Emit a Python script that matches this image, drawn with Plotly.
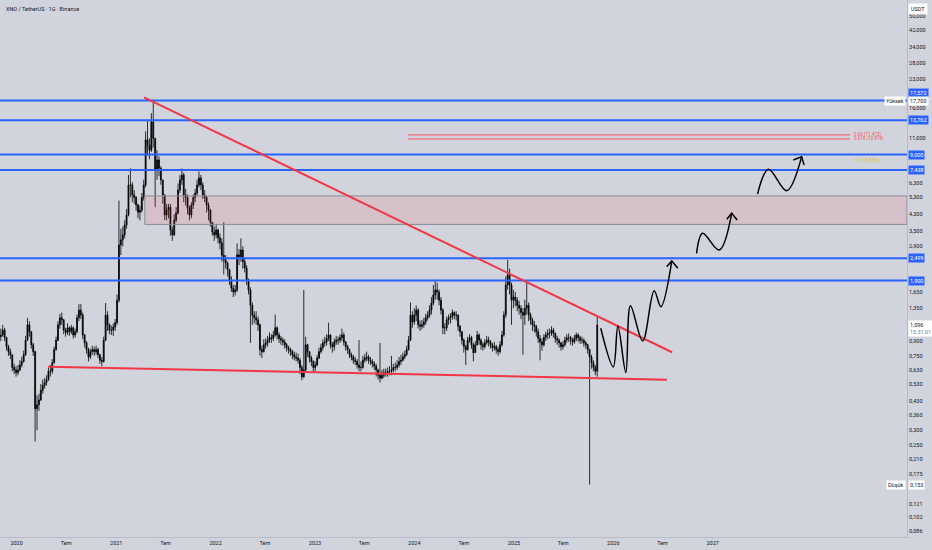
import math
import pandas as pd
import plotly.graph_objects as go

# XNO / TetherUS, weekly candles (open = previous close)
start_week = "2019-11-04"
first_open = 0.95

closes = [
    0.97, 1.03, 0.94, 0.84, 0.79, 0.76, 0.65, 0.63, 0.61, 0.63,
    0.67, 0.70, 0.76, 0.91, 1.10, 1.01, 0.86, 0.79, 0.39, 0.41,
    0.435, 0.49, 0.52, 0.54, 0.56, 0.62, 0.62, 0.69, 0.81, 0.91,
    1.10, 1.20, 1.17, 1.03, 1.00, 1.06, 1.01, 1.06, 0.97, 1.01,
    1.20, 1.32, 1.24, 0.97, 0.88, 0.81, 0.74, 0.79, 0.81, 0.79,
    0.81, 0.76, 0.71, 0.70, 0.91, 1.24, 1.10, 1.03, 1.03, 1.07,
    1.13, 1.49, 2.95, 3.14, 3.34, 3.77, 4.27, 6.19, 6.19, 5.47,
    5.30, 4.83, 4.42, 4.54, 5.30, 6.19, 10.8, 10.1, 9.5, 13.5,
    11.0, 7.5, 8.42, 7.6, 6.58, 5.47, 4.27, 4.54, 4.70, 3.55,
    3.34, 4.01, 4.38, 5.81, 6.58, 7.0, 5.47, 5.30, 4.65, 4.27,
    4.83, 5.30, 5.60, 6.19, 6.75, 6.19, 5.47, 5.30, 4.83, 4.54,
    3.90, 3.46, 3.34, 3.55, 3.22, 3.03, 2.60, 2.45, 2.36, 2.17,
    1.91, 1.73, 1.65, 1.69, 2.61, 2.55, 2.77, 2.40, 2.22, 1.91,
    1.69, 1.40, 1.24, 1.20, 1.17, 1.10, 0.81, 0.79, 0.86, 0.88,
    0.91, 0.94, 0.93, 0.97, 1.06, 0.97, 0.93, 0.91, 0.89, 0.86,
    0.83, 0.81, 0.79, 0.76, 0.74, 0.73, 0.71, 0.65, 0.58, 0.63,
    0.86, 0.79, 0.73, 0.70, 0.65, 0.67, 0.73, 0.79, 0.83, 0.88,
    0.89, 0.93, 0.97, 0.86, 0.84, 0.89, 0.91, 0.91, 0.94, 0.97,
    0.89, 0.84, 0.81, 0.76, 0.74, 0.71, 0.70, 0.67, 0.65, 0.65,
    0.71, 0.73, 0.74, 0.71, 0.70, 0.68, 0.66, 0.63, 0.59, 0.57,
    0.59, 0.61, 0.61, 0.62, 0.62, 0.63, 0.65, 0.65, 0.67, 0.70,
    0.71, 0.74, 0.76, 0.81, 0.91, 1.24, 1.14, 1.24, 1.32, 1.10,
    1.08, 1.10, 1.14, 1.20, 1.24, 1.32, 1.44, 1.59, 1.69, 1.65,
    1.49, 1.32, 1.06, 1.06, 1.17, 1.20, 1.22, 1.28, 1.24, 1.24,
    1.08, 1.01, 0.91, 0.84, 0.81, 0.91, 0.94, 0.86, 0.78, 0.86,
    0.97, 0.91, 0.86, 0.84, 0.88, 0.91, 0.89, 0.86, 0.83, 0.84,
    0.81, 0.79, 0.86, 0.97, 1.24, 1.80, 2.04, 1.80, 1.49, 1.55,
    1.49, 1.40, 1.35, 1.28, 1.24, 1.35, 1.40, 1.24, 1.17, 1.10,
    1.08, 1.01, 0.93, 0.89, 0.86, 0.94, 0.97, 0.99, 0.99, 1.03,
    0.99, 0.93, 0.91, 0.88, 0.84, 0.86, 0.91, 0.94, 0.94, 0.91,
    0.89, 0.93, 0.97, 0.94, 0.91, 0.91, 0.88, 0.86, 0.81, 0.74,
    0.69, 0.65, 0.62, 1.096,
]

highs = [
    1.05, 1.10, 1.06, 0.95, 0.86, 0.82, 0.76, 0.68, 0.66, 0.67,
    0.71, 0.74, 0.80, 0.96, 1.20, 1.15, 1.02, 0.88, 0.80, 0.46,
    0.47, 0.53, 0.56, 0.57, 0.59, 0.65, 0.67, 0.72, 0.84, 0.95,
    1.15, 1.26, 1.28, 1.18, 1.06, 1.12, 1.08, 1.10, 1.08, 1.05,
    1.25, 1.42, 1.42, 1.28, 0.98, 0.90, 0.83, 0.82, 0.85, 0.84,
    0.85, 0.83, 0.77, 0.74, 0.95, 1.44, 1.30, 1.12, 1.09, 1.12,
    1.18, 1.60, 5.10, 3.60, 3.70, 4.00, 4.60, 7.00, 7.60, 6.40,
    5.80, 5.40, 4.90, 4.80, 5.60, 6.60, 12.0, 13.8, 11.0, 15.0,
    17.7, 11.0, 9.5, 8.8, 7.8, 6.6, 5.5, 4.9, 4.9, 4.9,
    3.7, 4.3, 4.7, 6.3, 7.0, 7.6, 7.2, 5.9, 5.5, 4.8,
    5.0, 5.5, 5.9, 6.6, 7.3, 7.0, 6.4, 5.8, 5.4, 5.0,
    4.6, 3.9, 3.7, 3.8, 3.6, 3.4, 3.2, 3.9, 2.6, 2.4,
    2.2, 2.0, 1.8, 1.8, 3.0, 2.8, 3.2, 2.9, 2.5, 2.3,
    1.95, 1.75, 1.45, 1.30, 1.30, 1.22, 1.12, 0.85, 0.92, 0.93,
    0.96, 1.00, 0.98, 1.02, 1.25, 1.08, 1.00, 0.96, 0.94, 0.92,
    0.88, 0.85, 0.83, 0.81, 0.79, 0.78, 0.77, 0.73, 0.67, 1.69,
    0.95, 0.87, 0.79, 0.75, 0.71, 0.70, 0.76, 0.83, 0.87, 0.92,
    0.95, 0.98, 1.13, 0.98, 0.89, 0.93, 0.96, 0.95, 0.98, 1.05,
    1.00, 0.90, 0.86, 0.82, 0.78, 0.76, 0.74, 0.72, 0.91, 0.70,
    0.75, 0.77, 0.79, 0.76, 0.74, 0.72, 0.70, 0.68, 0.64, 0.88,
    0.63, 0.64, 0.64, 0.65, 0.66, 0.75, 0.68, 0.69, 0.71, 0.74,
    0.76, 0.78, 0.80, 0.85, 0.96, 1.45, 1.30, 1.35, 1.40, 1.35,
    1.16, 1.17, 1.20, 1.26, 1.30, 1.40, 1.55, 1.80, 1.92, 1.85,
    1.70, 1.55, 1.35, 1.12, 1.22, 1.25, 1.27, 1.33, 1.30, 1.30,
    1.25, 1.10, 1.02, 0.93, 0.86, 0.95, 0.98, 0.96, 0.88, 0.90,
    1.02, 0.99, 0.93, 0.89, 0.92, 0.96, 0.95, 0.91, 0.88, 0.89,
    0.86, 0.84, 0.90, 1.02, 1.30, 2.00, 2.45, 2.20, 1.85, 1.70,
    1.65, 1.55, 1.48, 1.40, 1.35, 1.50, 1.85, 1.45, 1.28, 1.20,
    1.15, 1.10, 1.05, 0.97, 0.93, 0.98, 1.01, 1.04, 1.05, 1.08,
    1.06, 1.00, 0.96, 0.93, 0.89, 0.90, 0.95, 0.98, 0.99, 0.96,
    0.94, 0.97, 1.00, 0.99, 0.96, 0.95, 0.93, 0.90, 0.87, 0.82,
    0.76, 0.71, 0.67, 1.23,
]

lows = [
    0.90, 0.95, 0.90, 0.80, 0.75, 0.72, 0.62, 0.60, 0.58, 0.59,
    0.62, 0.65, 0.69, 0.75, 0.90, 0.95, 0.82, 0.75, 0.26, 0.30,
    0.38, 0.43, 0.47, 0.50, 0.52, 0.55, 0.58, 0.60, 0.68, 0.80,
    0.90, 1.05, 1.10, 0.98, 0.95, 0.97, 0.96, 0.98, 0.93, 0.94,
    0.99, 1.15, 1.18, 0.92, 0.83, 0.77, 0.70, 0.72, 0.76, 0.75,
    0.76, 0.73, 0.68, 0.66, 0.69, 0.90, 1.02, 0.98, 0.97, 0.96,
    1.02, 1.10, 1.45, 2.60, 2.90, 3.20, 3.60, 4.20, 5.30, 5.00,
    4.9, 4.5, 4.1, 4.0, 4.4, 5.1, 6.0, 8.9, 8.5, 9.3,
    9.8, 4.7, 6.6, 6.9, 6.2, 4.9, 4.0, 4.0, 4.1, 3.3,
    3.1, 3.3, 3.9, 4.3, 5.6, 6.2, 5.0, 4.8, 4.3, 4.0,
    4.1, 4.6, 5.0, 5.4, 6.0, 5.8, 5.2, 5.0, 4.4, 4.0,
    3.7, 3.3, 3.1, 3.2, 3.0, 2.8, 2.4, 2.05, 2.2, 2.0,
    1.8, 1.65, 1.55, 1.58, 1.65, 2.3, 2.4, 2.2, 2.1, 1.8,
    1.6, 0.88, 1.1, 1.12, 1.1, 1.02, 0.75, 0.73, 0.78, 0.82,
    0.84, 0.88, 0.88, 0.90, 0.95, 0.92, 0.88, 0.86, 0.85, 0.82,
    0.79, 0.77, 0.75, 0.72, 0.71, 0.70, 0.68, 0.60, 0.555, 0.57,
    0.62, 0.74, 0.69, 0.66, 0.61, 0.62, 0.66, 0.72, 0.77, 0.80,
    0.84, 0.85, 0.90, 0.82, 0.78, 0.80, 0.86, 0.86, 0.88, 0.90,
    0.85, 0.80, 0.77, 0.73, 0.71, 0.68, 0.67, 0.64, 0.62, 0.62,
    0.64, 0.69, 0.70, 0.68, 0.67, 0.65, 0.63, 0.58, 0.56, 0.54,
    0.56, 0.57, 0.58, 0.58, 0.59, 0.59, 0.61, 0.62, 0.63, 0.65,
    0.67, 0.70, 0.72, 0.75, 0.80, 0.90, 1.06, 1.10, 1.15, 1.05,
    1.02, 1.04, 1.06, 1.10, 1.16, 1.20, 1.25, 1.40, 1.50, 1.50,
    1.40, 1.25, 0.98, 0.98, 1.02, 1.10, 1.12, 1.17, 1.18, 1.16,
    1.02, 0.95, 0.86, 0.78, 0.67, 0.80, 0.88, 0.82, 0.70, 0.78,
    0.85, 0.86, 0.81, 0.80, 0.82, 0.86, 0.84, 0.82, 0.79, 0.80,
    0.77, 0.75, 0.77, 0.84, 0.95, 1.20, 1.70, 1.60, 1.10, 1.35,
    1.38, 1.30, 1.25, 1.18, 0.76, 1.10, 1.25, 1.15, 1.10, 1.02,
    1.00, 0.95, 0.88, 0.71, 0.80, 0.84, 0.90, 0.92, 0.93, 0.96,
    0.94, 0.88, 0.86, 0.83, 0.80, 0.81, 0.84, 0.88, 0.89, 0.86,
    0.85, 0.87, 0.90, 0.89, 0.87, 0.87, 0.84, 0.82, 0.77, 0.153,
    0.64, 0.62, 0.59, 0.58,
]

weeks = pd.date_range(start_week, periods=len(closes), freq="7D")
opens = [first_open] + closes[:-1]

# horizontal levels drawn on the chart
levels = [17.572, 13.762, 9.000, 7.438, 2.499, 1.900]
level_labels = ["17,572", "13,762", "9,000", "7,438", "2,499", "1,900"]

# trend lines
down_x = ["2021-04-13", "2026-08-05"]
down_y = [18.26, 0.784]
support_x = ["2020-04-26", "2026-07-17"]
support_y = [0.656, 0.559]

# zone box
zone_x0 = "2021-04-16"
zone_top = 5.40
zone_bottom = 3.80

# fib lines
fib_x = ["2023-12-08", "2028-05-20"]
fib_levels = [11.473, 10.914]
fib_labels = ["0.65 (11.473)", "0.618 (10.914)"]
fib_note = "0.5 (8.558)"
fib_note_x = "2028-06-01"
fib_note_y = 8.40

# projected path
wave1_x = ["2025-11-16", "2026-01-01", "2026-01-18", "2026-02-16", "2026-03-05",
           "2026-04-19", "2026-05-31", "2026-06-25", "2026-08-04"]
wave1_y = [1.054, 0.654, 1.085, 0.610, 1.393, 0.901, 1.677, 1.376, 2.42]
head1_x = ["2026-07-16", "2026-08-04", "2026-08-26"]
head1_y = [2.25, 2.42, 2.21]
wave2_x = ["2026-11-03", "2026-11-25", "2027-01-25", "2027-03-12"]
wave2_y = [2.66, 3.41, 2.77, 4.36]
head2_x = ["2027-02-22", "2027-03-12", "2027-04-01"]
head2_y = [4.05, 4.36, 4.01]
wave3_x = ["2027-06-15", "2027-07-25", "2027-09-30", "2027-11-24"]
wave3_y = [5.53, 7.51, 5.76, 8.77]
head3_x = ["2027-10-24", "2027-11-24", "2027-12-03"]
head3_y = [8.42, 8.77, 7.92]

# axes
x_range = ["2019-11-01", "2028-12-15"]
y_top, y_bottom = 60.7, 0.0801
ytick_vals = [50, 42, 34, 28, 23, 16, 11, 6.3, 5.3, 4.3, 3.5, 2.9, 1.65, 1.35,
              0.9, 0.75, 0.63, 0.53, 0.43, 0.36, 0.30, 0.25, 0.21, 0.175,
              0.121, 0.102, 0.086]
xtick_vals = ["2020-01-01", "2020-07-01", "2021-01-01", "2021-07-01", "2022-01-01",
              "2022-07-01", "2023-01-01", "2023-07-01", "2024-01-01", "2024-07-01",
              "2025-01-01", "2025-07-01", "2026-01-01", "2026-07-01", "2027-01-01"]
xtick_text = ["2020", "Tem", "2021", "Tem", "2022", "Tem", "2023", "Tem", "2024",
              "Tem", "2025", "Tem", "2026", "Tem", "2027"]

last_price = 1.096
high_price = 17.700
low_price = 0.153


def fmt(v):
    return f"{v:.3f}".replace(".", ",")


BG = "#d1d4dc"
TXT = "#131722"
BLUE = "#2962ff"
RED = "#f23645"

fig = go.Figure()

# zone
fig.add_trace(go.Scatter(
    x=[zone_x0, x_range[1], x_range[1], zone_x0, zone_x0],
    y=[zone_top, zone_top, zone_bottom, zone_bottom, zone_top],
    fill="toself", fillcolor="rgba(242,54,69,0.12)",
    line=dict(color="#8a8d96", width=1), mode="lines", hoverinfo="skip"))

for lv in levels:
    fig.add_trace(go.Scatter(x=x_range, y=[lv, lv], mode="lines",
                             line=dict(color=BLUE, width=2), hoverinfo="skip"))

for fl in fib_levels:
    fig.add_trace(go.Scatter(x=fib_x, y=[fl, fl], mode="lines",
                             line=dict(color="#f7525f", width=1), hoverinfo="skip"))

fig.add_trace(go.Candlestick(
    x=weeks, open=opens, high=highs, low=lows, close=closes,
    increasing=dict(line=dict(color="#000000", width=0.8), fillcolor="#000000"),
    decreasing=dict(line=dict(color="#000000", width=0.8), fillcolor="#000000"),
    whiskerwidth=0))

fig.add_trace(go.Scatter(x=down_x, y=down_y, mode="lines",
                         line=dict(color=RED, width=2), hoverinfo="skip"))
fig.add_trace(go.Scatter(x=support_x, y=support_y, mode="lines",
                         line=dict(color=RED, width=2), hoverinfo="skip"))

for wx, wy in [(wave1_x, wave1_y), (wave2_x, wave2_y), (wave3_x, wave3_y)]:
    fig.add_trace(go.Scatter(x=wx, y=wy, mode="lines",
                             line=dict(color="#000000", width=1.5, shape="spline"),
                             hoverinfo="skip"))
for hx, hy in [(head1_x, head1_y), (head2_x, head2_y), (head3_x, head3_y)]:
    fig.add_trace(go.Scatter(x=hx, y=hy, mode="lines",
                             line=dict(color="#000000", width=1.5), hoverinfo="skip"))

small = dict(family="Roboto", size=5.5, color=TXT)
ann = []
ann.append(dict(xref="paper", yref="paper", x=0, y=1, xanchor="left", yanchor="top",
                xshift=4, yshift=-4, text="XNO / TetherUS · 1G · Binance", showarrow=False,
                font=dict(family="Roboto", size=5.5, color=TXT)))
ann.append(dict(xref="paper", yref="paper", x=1, y=1, xanchor="left", yanchor="top",
                xshift=1, yshift=-3, text="USDT", showarrow=False, bgcolor="#ffffff",
                borderpad=2, font=small))
for i, (lv, lb) in enumerate(zip(levels, level_labels)):
    ann.append(dict(xref="paper", yref="y", x=1, y=math.log10(lv), xanchor="left",
                    yanchor="middle", xshift=1, yshift=7 if i == 0 else 0, text=lb,
                    showarrow=False, bgcolor=BLUE, borderpad=1,
                    font=dict(family="Roboto", size=5.5, color="#ffffff")))
ann.append(dict(xref="paper", yref="y", x=1, y=math.log10(high_price), xanchor="left",
                yanchor="middle", xshift=1, yshift=-1, text=fmt(high_price), showarrow=False,
                bgcolor="#ffffff", borderpad=1, font=small))
ann.append(dict(xref="paper", yref="y", x=1, y=math.log10(high_price), xanchor="right",
                yanchor="middle", xshift=-1, yshift=-1, text="Yüksek", showarrow=False,
                bgcolor="#ffffff", borderpad=1, font=small))
ann.append(dict(xref="paper", yref="y", x=1, y=math.log10(low_price), xanchor="left",
                yanchor="middle", xshift=1, text=fmt(low_price), showarrow=False,
                bgcolor="#ffffff", borderpad=1, font=small))
ann.append(dict(xref="paper", yref="y", x=1, y=math.log10(low_price), xanchor="right",
                yanchor="middle", xshift=-1, text="Düşük", showarrow=False,
                bgcolor="#ffffff", borderpad=1, font=small))
ann.append(dict(xref="paper", yref="y", x=1, y=math.log10(last_price), xanchor="left",
                yanchor="middle", xshift=1, yshift=-3,
                text=fmt(last_price) + "<br><span style='color:#787b86'>15:31:01</span>",
                showarrow=False, bgcolor="#ffffff", borderpad=1, align="left", font=small))
for fl, lb in zip(fib_levels, fib_labels):
    ann.append(dict(xref="x", yref="y", x=fib_x[1], y=math.log10(fl), xanchor="left",
                    yanchor="middle", xshift=2, text=lb, showarrow=False,
                    font=dict(family="Roboto", size=4.5, color="#f7525f")))
ann.append(dict(xref="x", yref="y", x=fib_note_x, y=math.log10(fib_note_y), xanchor="left",
                yanchor="middle", text=fib_note, showarrow=False,
                font=dict(family="Roboto", size=5, color="#e3c22f")))

fig.update_layout(
    width=932, height=550,
    margin=dict(l=0, r=25, t=0, b=13),
    paper_bgcolor=BG, plot_bgcolor=BG,
    showlegend=False,
    annotations=ann,
    xaxis=dict(type="date", range=x_range, rangeslider=dict(visible=False),
               tickvals=xtick_vals, ticktext=xtick_text, showgrid=False, zeroline=False,
               showline=True, linecolor="#b8bcc6", linewidth=1, ticks="",
               tickfont=small, fixedrange=True),
    yaxis=dict(type="log", range=[math.log10(y_bottom), math.log10(y_top)], side="right",
               tickvals=ytick_vals, ticktext=[fmt(v) for v in ytick_vals],
               showgrid=False, zeroline=False, showline=True, linecolor="#b8bcc6",
               linewidth=1, ticks="", tickfont=small, fixedrange=True),
)

# page body has an 8px default margin; drop it so the figure fills the window
fig.write_html("out.html", config={"displayModeBar": False},
               post_script="document.body.style.margin='0';")
